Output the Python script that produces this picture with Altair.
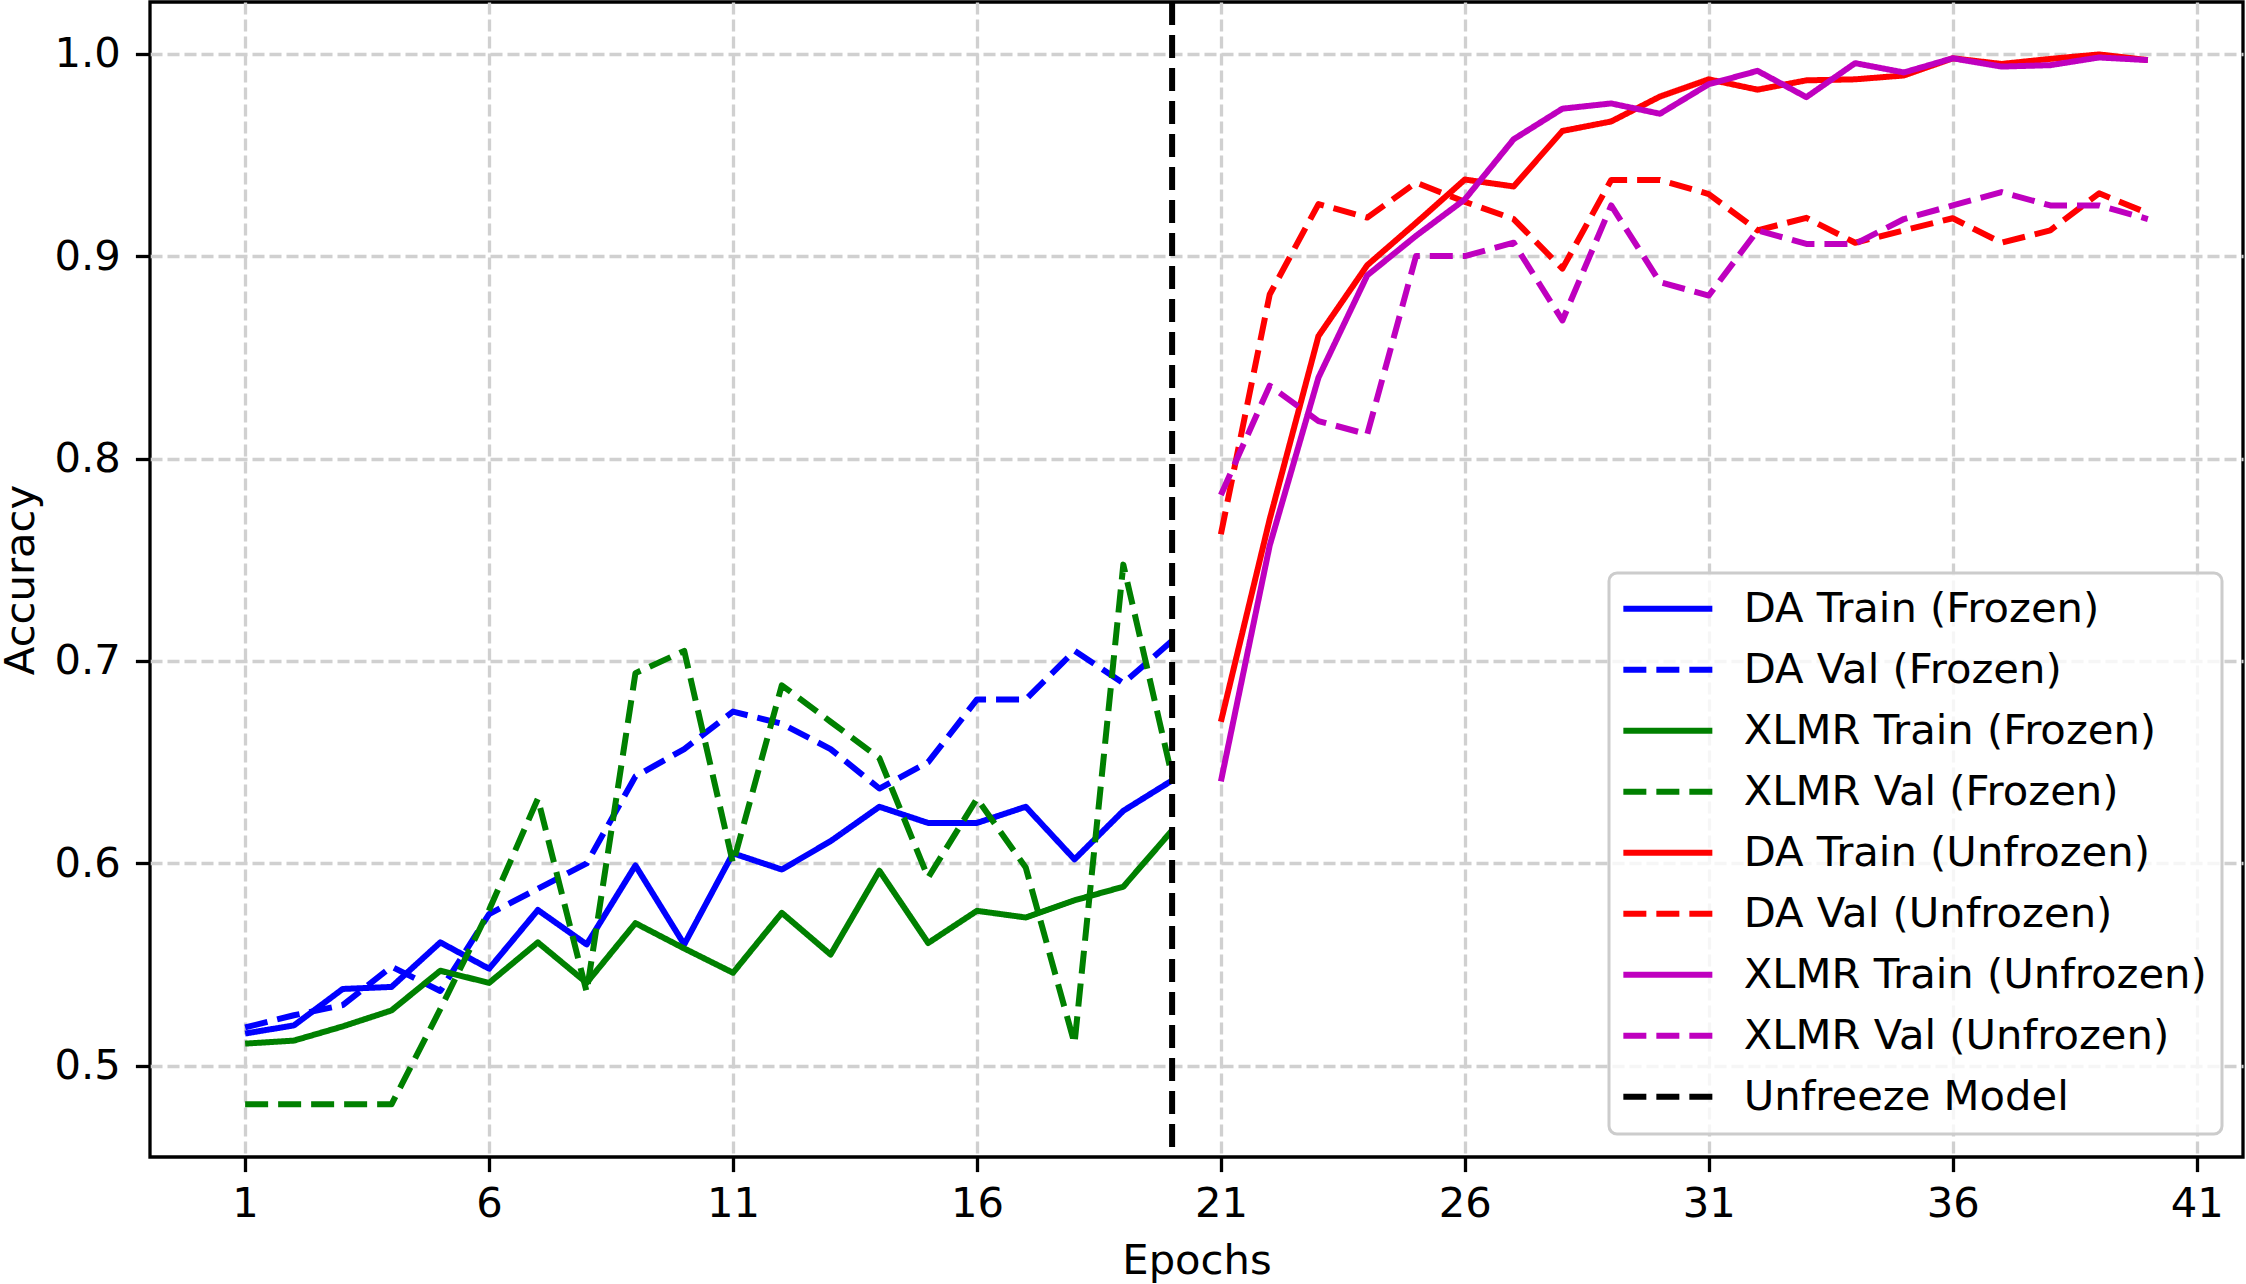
import altair as alt
import pandas as pd

# ---------------- data ----------------
epochs_frozen = list(range(1, 21))
epochs_unfrozen = list(range(21, 41))

da_train_frozen = [0.516, 0.520, 0.538, 0.539, 0.561, 0.548, 0.577, 0.560, 0.599, 0.560,
                   0.605, 0.597, 0.611, 0.628, 0.620, 0.620, 0.628, 0.602, 0.626, 0.641]
da_val_frozen = [0.519, 0.525, 0.530, 0.549, 0.537, 0.575, 0.5875, 0.600, 0.643, 0.6565,
                 0.675, 0.669, 0.6565, 0.637, 0.650, 0.681, 0.681, 0.705, 0.689, 0.710]
xlmr_train_frozen = [0.511, 0.5125, 0.5195, 0.5274, 0.547, 0.541, 0.561, 0.541, 0.5705, 0.558,
                     0.546, 0.5756, 0.555, 0.5964, 0.5607, 0.5766, 0.5733, 0.5818, 0.5885, 0.6163]
xlmr_val_frozen = [0.481, 0.481, 0.481, 0.481, 0.528, 0.577, 0.632, 0.5365, 0.694, 0.705,
                   0.600, 0.688, 0.670, 0.652, 0.593, 0.632, 0.598, 0.511, 0.7476, 0.643]

da_train_unfrozen = [0.670, 0.770, 0.8605, 0.8955, 0.9164, 0.9378, 0.9344, 0.9618, 0.9665, 0.9788,
                     0.9873, 0.9822, 0.9868, 0.9873, 0.9892, 0.9977, 0.9949, 0.9974, 0.9996, 0.9968]
da_val_unfrozen = [0.7626, 0.881, 0.9257, 0.919, 0.9363, 0.9268, 0.9183, 0.8938, 0.9376, 0.9376,
                   0.9306, 0.9127, 0.9189, 0.9066, 0.9127, 0.9187, 0.9066, 0.9127, 0.931, 0.9212]
xlmr_train_unfrozen = [0.6405, 0.757, 0.840, 0.8905, 0.910, 0.928, 0.9577, 0.9728, 0.9754, 0.9703,
                       0.9849, 0.9915, 0.9785, 0.9953, 0.9907, 0.9977, 0.9936, 0.9943, 0.9981, 0.9968]
xlmr_val_unfrozen = [0.782, 0.836, 0.8185, 0.812, 0.900, 0.900, 0.9066, 0.8682, 0.925, 0.8871,
                     0.8805, 0.9127, 0.906, 0.906, 0.9183, 0.925, 0.9316, 0.925, 0.925, 0.9183]

series_names = [
    "DA Train (Frozen)", "DA Val (Frozen)", "XLMR Train (Frozen)", "XLMR Val (Frozen)",
    "DA Train (Unfrozen)", "DA Val (Unfrozen)", "XLMR Train (Unfrozen)", "XLMR Val (Unfrozen)",
]
unfreeze_label = "Unfreeze Model"
unfreeze_epoch = [20]

x_ticks = [1, 6, 11, 16, 21, 26, 31, 36, 41]
y_ticks = [0.5, 0.6, 0.7, 0.8, 0.9, 1.0]

series_colors = ["#0000ff", "#0000ff", "#008000", "#008000",
                 "#ff0000", "#ff0000", "#bf00bf", "#bf00bf", "#000000"]
DASH = [23, 10]
SOLID = [1, 0]
series_dashes = [SOLID, DASH, SOLID, DASH, SOLID, DASH, SOLID, DASH, DASH]

# ---------------- tables ----------------
all_series = [
    (series_names[0], epochs_frozen, da_train_frozen),
    (series_names[1], epochs_frozen, da_val_frozen),
    (series_names[2], epochs_frozen, xlmr_train_frozen),
    (series_names[3], epochs_frozen, xlmr_val_frozen),
    (series_names[4], epochs_unfrozen, da_train_unfrozen),
    (series_names[5], epochs_unfrozen, da_val_unfrozen),
    (series_names[6], epochs_unfrozen, xlmr_train_unfrozen),
    (series_names[7], epochs_unfrozen, xlmr_val_unfrozen),
]
rows = []
for name, eps, vals in all_series:
    for e, v in zip(eps, vals):
        rows.append({"epoch": e, "acc": v, "series": name})
df = pd.DataFrame(rows)
vline_df = pd.DataFrame({"epoch": unfreeze_epoch, "series": [unfreeze_label]})

domain = series_names + [unfreeze_label]

FONT = "DejaVu Sans"
FS = 41.7


def make_legend():
    # long horizontal stroke symbol (4x the nominal symbol width)
    return alt.Legend(
        orient="none", legendX=1459, legendY=571, title=None,
        symbolType="M-4,0H4", symbolSize=495, symbolStrokeWidth=6, symbolOffset=23,
        labelFontSize=FS, labelFont=FONT, labelColor="black", labelOffset=55, labelLimit=0,
        padding=15, rowPadding=18,
        fillColor="rgba(255,255,255,0.8)", strokeColor="#cccccc", cornerRadius=8,
    )


x_enc = alt.X(
    "epoch:Q",
    scale=alt.Scale(domain=[-0.95, 41.95], nice=False, zero=False),
    axis=alt.Axis(values=x_ticks, title="Epochs", format="d",
                  labelBaseline="alphabetic", labelPadding=45,
                  titleX=1046.5, titleY=116, titleBaseline="alphabetic", titleAlign="center"),
)
color_enc = alt.Color("series:N", scale=alt.Scale(domain=domain, range=series_colors),
                      legend=make_legend())
dash_enc = alt.StrokeDash("series:N", scale=alt.Scale(domain=domain, range=series_dashes),
                          legend=make_legend())

lines = alt.Chart(df).mark_line(strokeWidth=6, strokeJoin="round", strokeCap="butt").encode(
    x=x_enc,
    y=alt.Y(
        "acc:Q",
        scale=alt.Scale(domain=[0.455, 1.0255], nice=False, zero=False),
        axis=alt.Axis(values=y_ticks, format=".1f", title="Accuracy", labelPadding=15,
                      titleX=-117, titleY=577.5, titleAngle=270,
                      titleBaseline="alphabetic", titleAlign="center"),
    ),
    color=color_enc,
    strokeDash=dash_enc,
)

vline = alt.Chart(vline_df).mark_rule(strokeWidth=6, strokeCap="butt").encode(
    x="epoch:Q",
    color=color_enc,
    strokeDash=dash_enc,
)

chart = alt.layer(lines, vline).properties(
    width=2093, height=1155,
    autosize=alt.AutoSizeParams(type="none"),
    padding={"left": 150, "top": 2, "right": 3, "bottom": 127},
    background="white",
).configure_view(
    stroke="black", strokeWidth=3.3,
).configure_axis(
    labelFont=FONT, labelFontSize=FS, labelColor="black",
    titleFont=FONT, titleFontSize=FS, titleColor="black", titleFontWeight="normal",
    tickColor="black", tickWidth=3.3, tickSize=14.6,
    domain=False,
    grid=True, gridColor="#d0d0d0", gridWidth=3.3, gridDash=[12, 5],
).configure_legend(
    strokeWidth=3,
)

chart.save("out.html", embed_options={"renderer": "svg", "actions": False})
